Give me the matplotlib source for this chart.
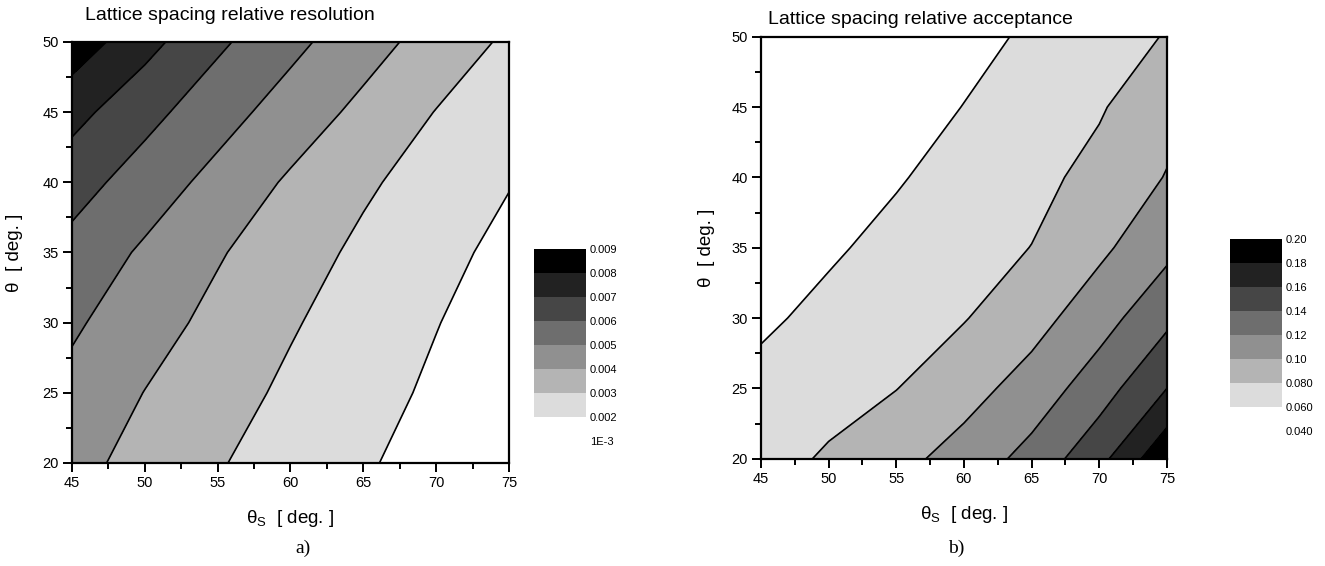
import numpy as np
import matplotlib
matplotlib.use("Agg")
import matplotlib.pyplot as plt
from matplotlib.ticker import MultipleLocator

plt.rcParams['font.family'] = ['Liberation Sans', 'DejaVu Sans']
plt.rcParams['mathtext.default'] = 'regular'

# grid of the two maps (theta_s along x, theta along y)
theta_s = [45, 50, 55, 60, 65, 70, 75]
theta = [20, 25, 30, 35, 40, 45, 50]

# relative resolution, one row per theta value
resolution = [
    [0.00430, 0.00367, 0.00307, 0.00258, 0.00210, 0.00165, 0.00125],
    [0.00471, 0.00398, 0.00338, 0.00282, 0.00232, 0.00185, 0.00145],
    [0.00515, 0.00441, 0.00373, 0.00309, 0.00255, 0.00203, 0.00157],
    [0.00567, 0.00485, 0.00409, 0.00342, 0.00280, 0.00226, 0.00176],
    [0.00642, 0.00553, 0.00469, 0.00386, 0.00315, 0.00258, 0.00204],
    [0.00732, 0.00632, 0.00540, 0.00456, 0.00375, 0.00297, 0.00240],
    [0.00860, 0.00733, 0.00618, 0.00526, 0.00441, 0.00359, 0.00283],
]

# relative acceptance, one row per theta value
acceptance = [
    [0.0720, 0.0825, 0.0939, 0.1078, 0.1267, 0.1538, 0.1960],
    [0.0651, 0.0723, 0.0796, 0.0924, 0.1082, 0.1308, 0.1600],
    [0.0570, 0.0646, 0.0718, 0.0790, 0.0925, 0.1117, 0.1353],
    [0.0501, 0.0576, 0.0651, 0.0726, 0.0803, 0.0959, 0.1148],
    [0.0424, 0.0505, 0.0585, 0.0666, 0.0747, 0.0856, 0.1010],
    [0.0336, 0.0425, 0.0514, 0.0604, 0.0693, 0.0782, 0.0933],
    [0.0270, 0.0360, 0.0449, 0.0539, 0.0629, 0.0719, 0.0810],
]

res_levels = [0.001, 0.002, 0.003, 0.004, 0.005, 0.006, 0.007, 0.008, 0.009]
res_labels = ['1E-3', '0.002', '0.003', '0.004', '0.005', '0.006', '0.007', '0.008', '0.009']
acc_levels = [0.04, 0.06, 0.08, 0.10, 0.12, 0.14, 0.16, 0.18, 0.20]
acc_labels = ['0.040', '0.060', '0.080', '0.10', '0.12', '0.14', '0.16', '0.18', '0.20']

greys = ['#ffffff', '#dcdcdc', '#b4b4b4', '#909090', '#6e6e6e', '#464646', '#222222', '#000000']

W, H = 1325, 566
fig = plt.figure(figsize=(W / 100, H / 100), dpi=100)


def draw_map(ax_rect, cb_rect, values, levels, labels, title, title_xy, caption, caption_x):
    ax = fig.add_axes(ax_rect)
    z = np.array(values)
    cs = ax.contourf(theta_s, theta, z, levels=levels, colors=greys)
    ax.contour(theta_s, theta, z, levels=levels[1:], colors='black', linewidths=1.2)
    ax.set_xlim(45, 75)
    ax.set_ylim(20, 50)
    ax.xaxis.set_major_locator(MultipleLocator(5))
    ax.yaxis.set_major_locator(MultipleLocator(5))
    ax.xaxis.set_minor_locator(MultipleLocator(2.5))
    ax.yaxis.set_minor_locator(MultipleLocator(2.5))
    ax.tick_params(which='major', direction='out', length=6.5, width=1.4, labelsize=10.5, pad=3)
    ax.tick_params(which='minor', direction='out', length=4, width=1.4)
    for s in ax.spines.values():
        s.set_linewidth(1.6)
    ax.set_xlabel('θ$_{S}$  [ deg. ]', fontsize=13.5)
    ax.set_ylabel('θ  [ deg. ]', fontsize=13.5)
    ax.xaxis.set_label_coords(0.5, -0.108)
    ax.yaxis.set_label_coords(-0.112, 0.5)

    fig.text(title_xy[0] / W, 1 - title_xy[1] / H, title, fontsize=14, ha='left', va='center')
    fig.text(caption_x / W, 1 - 548 / H, caption, ha='center', va='center',
             fontsize=14, family=['Liberation Serif', 'DejaVu Serif'])

    cax = fig.add_axes(cb_rect)
    cb = fig.colorbar(cs, cax=cax, ticks=levels)
    cb.outline.set_visible(False)
    cb.ax.set_yticklabels(labels)
    cb.ax.tick_params(length=0, labelsize=8, pad=3)


draw_map([0.0543, 0.182, 0.3298, 0.7438], [0.403, 0.2208, 0.0392, 0.339],
         resolution, res_levels, res_labels, 'Lattice spacing relative resolution',
         (85, 16), 'a)', 303)
draw_map([0.5743, 0.1896, 0.3064, 0.7456], [0.9283, 0.2385, 0.0392, 0.339],
         acceptance, acc_levels, acc_labels, 'Lattice spacing relative acceptance',
         (768, 20), 'b)', 956)

plt.savefig('out.png', dpi=100)
